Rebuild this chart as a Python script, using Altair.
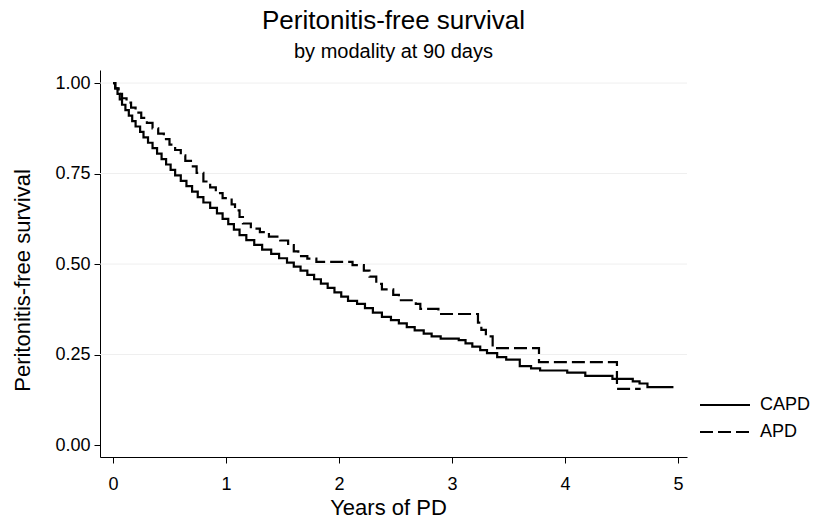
import altair as alt
import pandas as pd

groups = ["CAPD", "APD"]

capd_t = [0.00, 0.02, 0.04, 0.06, 0.08, 0.11, 0.14, 0.17, 0.20, 0.24, 0.27, 0.31, 0.35, 0.39,
          0.43, 0.47, 0.51, 0.55, 0.60, 0.65, 0.70, 0.75, 0.80, 0.86, 0.92, 0.97, 1.02, 1.07,
          1.12, 1.18, 1.25, 1.32, 1.40, 1.47, 1.54, 1.60, 1.66, 1.72, 1.78, 1.84, 1.90, 1.96,
          2.02, 2.08, 2.16, 2.23, 2.30, 2.38, 2.46, 2.53, 2.60, 2.67, 2.75, 2.82, 2.90, 3.06,
          3.12, 3.18, 3.25, 3.31, 3.40, 3.48, 3.60, 3.70, 3.78, 4.02, 4.18, 4.42, 4.60, 4.66,
          4.73, 4.96]
capd_s = [1.000, 0.985, 0.970, 0.955, 0.940, 0.925, 0.910, 0.895, 0.880, 0.865, 0.850, 0.835,
          0.820, 0.805, 0.790, 0.775, 0.760, 0.745, 0.730, 0.715, 0.700, 0.685, 0.670, 0.655,
          0.640, 0.625, 0.610, 0.595, 0.580, 0.566, 0.553, 0.540, 0.528, 0.516, 0.504, 0.493,
          0.482, 0.470, 0.458, 0.446, 0.434, 0.422, 0.410, 0.398, 0.390, 0.378, 0.366, 0.354,
          0.345, 0.336, 0.326, 0.317, 0.308, 0.300, 0.294, 0.290, 0.281, 0.272, 0.262, 0.254,
          0.243, 0.236, 0.218, 0.212, 0.206, 0.200, 0.191, 0.183, 0.176, 0.170, 0.160, 0.160]

apd_t = [0.00, 0.02, 0.05, 0.08, 0.12, 0.16, 0.20, 0.25, 0.30, 0.35, 0.40, 0.45, 0.50, 0.55,
         0.60, 0.64, 0.69, 0.74, 0.80, 0.86, 0.91, 0.97, 1.05, 1.08, 1.12, 1.15, 1.22, 1.30,
         1.38, 1.48, 1.55, 1.60, 1.64, 1.72, 1.80, 2.12, 2.22, 2.27, 2.33, 2.38, 2.48, 2.53,
         2.68, 2.72, 2.88, 3.23, 3.26, 3.30, 3.36, 3.77, 4.46, 4.67]
apd_s = [1.000, 0.985, 0.970, 0.958, 0.946, 0.932, 0.918, 0.904, 0.890, 0.875, 0.860, 0.845,
         0.830, 0.815, 0.800, 0.785, 0.770, 0.752, 0.728, 0.712, 0.696, 0.682, 0.665, 0.648,
         0.630, 0.612, 0.598, 0.588, 0.576, 0.565, 0.552, 0.535, 0.522, 0.515, 0.506, 0.497,
         0.482, 0.465, 0.445, 0.430, 0.415, 0.400, 0.390, 0.376, 0.362, 0.338, 0.318, 0.300,
         0.268, 0.229, 0.155, 0.155]

y_ticks = [0.0, 0.25, 0.5, 0.75, 1.0]
x_ticks = [0, 1, 2, 3, 4, 5]
grid_vals = [0.25, 0.5, 0.75, 1.0]

FONT = "Liberation Sans"

rows = [{"t": t, "s": s, "group": "CAPD"} for t, s in zip(capd_t, capd_s)]
rows += [{"t": t, "s": s, "group": "APD"} for t, s in zip(apd_t, apd_s)]
df = pd.DataFrame(rows)
grid_df = pd.DataFrame({"v": grid_vals})

x_scale = alt.Scale(domain=[-0.115, 5.08], nice=False, zero=False)
y_scale = alt.Scale(domain=[-0.033, 1.036], nice=False, zero=False)

y_axis = alt.Axis(values=y_ticks, format=".2f", title="Peritonitis-free survival",
                  titleX=-78, titleY=210, titleAngle=270, titleBaseline="middle",
                  titleAlign="center", titleFontSize=22, labelPadding=4)
x_axis = alt.Axis(values=x_ticks, format="d", title="Years of PD",
                  titleX=288, titleY=57, titleBaseline="alphabetic",
                  titleAlign="center", titleFontSize=22, labelPadding=12)

grid = alt.Chart(grid_df).mark_rule(color="#efefef", strokeWidth=1).encode(
    y=alt.Y("v:Q", scale=y_scale, axis=y_axis)
)

lines = alt.Chart(df).mark_line(interpolate="step-after", strokeWidth=2.2, color="black").encode(
    x=alt.X("t:Q", scale=x_scale, axis=x_axis),
    y=alt.Y("s:Q", scale=y_scale, axis=y_axis),
    strokeDash=alt.StrokeDash(
        "group:N",
        scale=alt.Scale(domain=groups, range=[[1, 0], [13, 5]]),
        legend=alt.Legend(orient="none", legendX=611, legendY=321, title=None,
                          symbolType="M-2,0H2", symbolSize=625, symbolStrokeWidth=2.2,
                          symbolStrokeColor="black", symbolFillColor="transparent",
                          labelFontSize=18, labelFont=FONT,
                          labelColor="black", labelOffset=21, rowPadding=4, padding=0),
    ),
    detail="group:N",
)

chart = alt.layer(grid, lines).properties(
    width=587,
    height=387,
    autosize=alt.AutoSizeParams(type="none"),
    padding={"left": 100, "top": 70, "right": 139, "bottom": 62},
    background="white",
    title=alt.TitleParams(
        text="Peritonitis-free survival",
        subtitle="by modality at 90 days",
        fontSize=26, subtitleFontSize=20, font=FONT, subtitleFont=FONT,
        color="black", subtitleColor="black", fontWeight="normal",
        anchor="middle", subtitlePadding=8, offset=8,
    ),
).configure_view(stroke=None).configure_axis(
    grid=False, domainColor="black", domainWidth=1, tickColor="black", tickSize=6,
    labelFont=FONT, labelFontSize=18, labelColor="black", titleFont=FONT,
    titleFontWeight="normal", titleColor="black",
)

chart.save("out.html", embed_options={"renderer": "svg", "actions": False})
